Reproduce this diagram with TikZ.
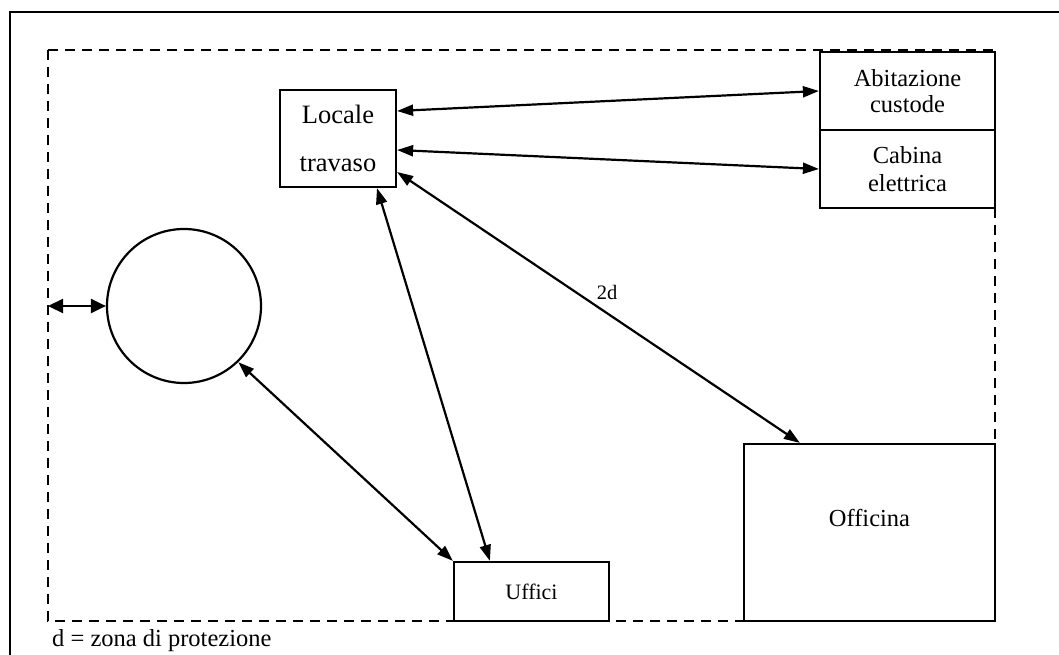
\documentclass[tikz,border=0pt]{standalone}
\usepackage{fontspec}
\setmainfont{Liberation Serif}
\usetikzlibrary{arrows.meta}
\begin{document}
\begin{tikzpicture}[x=1pt,y=-1pt,
  box/.style={draw,line width=2.2pt,rectangle,inner sep=0pt,align=center},
  conn/.style={line width=2.2pt,{Triangle[length=16pt,width=11pt]}-{Triangle[length=16pt,width=11pt]}},
  zone/.style={line width=2.2pt,dash pattern=on 10pt off 7pt},
  frame/.style={line width=2.2pt}]
\useasboundingbox (0,0) rectangle (1059,655);
% outer frame (left and top)
\draw[frame] (10,655) -- (10,12) -- (1059,12);
% protection zone
\draw[zone] (48,50) rectangle (995,621);
% nodes
\node[box,minimum width=116pt,minimum height=97pt,font=\fontsize{26.5}{48}\selectfont] (loc) at (338,138.5) {Locale\\travaso};
\node[box,minimum width=175pt,minimum height=78pt,font=\fontsize{24.5}{26}\selectfont] (abit) at (907.5,91) {Abitazione\\custode};
\node[box,minimum width=175pt,minimum height=78pt,font=\fontsize{24.5}{28}\selectfont] (cab) at (907.5,169) {Cabina\\elettrica};
\node[draw,line width=2.2pt,circle,minimum size=154pt,inner sep=0pt] (circ) at (184,306) {};
\node[box,minimum width=155pt,minimum height=59pt,font=\fontsize{22}{26}\selectfont] (uff) at (531.5,591.5) {Uffici};
\node[box,minimum width=251pt,minimum height=177pt,
  label={[yshift=14.5pt,font=\fontsize{24.5}{28}\selectfont]center:Officina}] (off) at (869.5,532.5) {};
\coordinate (zl) at (48,306);
% connectors
\draw[conn] ([yshift=27.5pt]loc.east) -- (abit.west);
\draw[conn] ([yshift=-11.5pt]loc.east) -- (cab.west);
\draw[conn] ([yshift=-33.5pt]loc.east) -- ([xshift=57pt]off.north west);
\draw[conn] ([xshift=39pt]loc.south) -- ([xshift=37pt]uff.north west);
\draw[conn] (circ.-46) -- (uff.north west);
\draw[conn,{Triangle[length=15pt,width=14pt]}-{Triangle[length=15pt,width=14pt]}] (zl) -- (circ.west);
% labels
\node[font=\fontsize{20.5}{24}\selectfont,inner sep=0pt] (lbl2d) at (607,292) {2d};
\node[font=\fontsize{24.5}{28}\selectfont,inner sep=0pt,anchor=west] (legend) at (52,641) {d = zona di protezione};
\end{tikzpicture}
\end{document}
